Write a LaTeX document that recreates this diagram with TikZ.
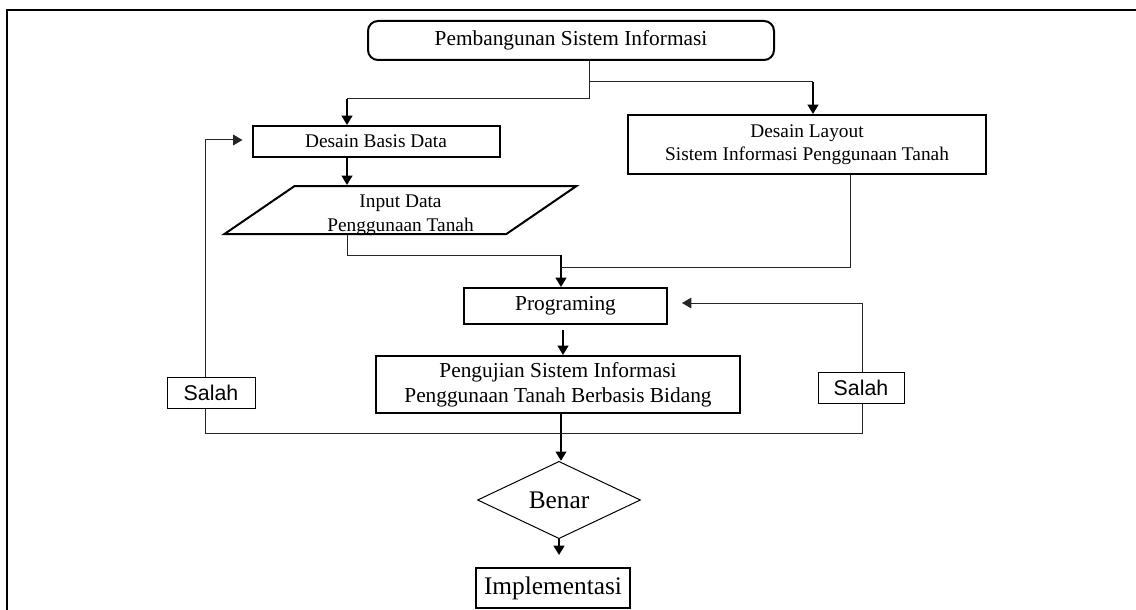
\documentclass[tikz,border=0pt]{standalone}
\usepackage{fontspec}
\setmainfont{Liberation Serif}
\setsansfont{Liberation Sans}
\usetikzlibrary{arrows.meta,shapes.geometric}
\tikzset{every picture/.style={line width=0.75pt}}
\tikzset{
  box/.style={draw, line width=1.5pt, align=center, inner sep=1pt},
  flow/.style={line width=1.5pt, -{Triangle[length=7pt,width=8pt]}},
  back/.style={line width=0.75pt, draw=black!85, -{Triangle[length=7pt,width=8pt]}},
  link/.style={line width=0.75pt, draw=black!85},
  tag/.style={draw, line width=0.75pt, font=\sffamily\fontsize{16}{19}\selectfont, minimum height=23.25pt, inner sep=1pt},
}

\begin{document}
\begin{tikzpicture}[x=0.75pt,y=0.75pt,yscale=-1,xscale=1]
\useasboundingbox (0,0) rectangle (1136,610);
%Frame
\draw [line width=1.5pt] (7,610) -- (7,10) -- (1136,10);

%Shape: Rounded Rect
\node [box, rounded corners=7.5pt, minimum width=304.5pt, minimum height=29.25pt, font=\fontsize{16}{19}\selectfont] (top) at (571,40.5) {Pembangunan Sistem Informasi};
%Shape: Rectangle
\node [box, minimum width=185.25pt, minimum height=23.25pt, font=\fontsize{14.5}{17.5}\selectfont] (desain) at (376,141.5) {Desain Basis Data};
%Shape: Rectangle
\node [box, minimum width=268.5pt, minimum height=44.25pt, font=\fontsize{14.5}{17.5}\selectfont] (layout) at (807,144.5) {Desain Layout\\Sistem Informasi Penggunaan Tanah};
%Shape: Parallelogram
\node [box, trapezium, trapezium left angle=34.4, trapezium right angle=145.6, trapezium stretches body=true, minimum width=264pt,
  label={[font=\fontsize{14.5}{18}\selectfont, align=center, yshift=-3.75pt]center:{Input Data\\Penggunaan Tanah}}] (input) at (400.5,210) {\rule{0pt}{34pt}};
%Shape: Rectangle
\node [box, minimum width=152.25pt, minimum height=27pt, font=\fontsize{16}{19}\selectfont] (prog) at (565.5,306) {Programing};
%Shape: Rectangle
\node [box, minimum width=273pt, minimum height=42.75pt, font=\fontsize{16}{18.75}\selectfont] (uji) at (558,384.5) {Pengujian Sistem Informasi\\Penggunaan Tanah Berbasis Bidang};
%Shape: Diamond
\node [draw, diamond, line width=0.75pt, inner sep=0pt, minimum width=122.25pt, minimum height=52.5pt, font=\fontsize{19}{22}\selectfont] (benar) at (559,500) {Benar};
%Shape: Rectangle
\node [box, minimum width=115.5pt, minimum height=30pt, font=\fontsize{19}{22}\selectfont] (impl) at (553,588) {Implementasi};
%Shape: Rectangle
\node [tag, minimum width=66pt] (salahL) at (211,392.5) {Salah};
\node [tag, minimum width=64.5pt] (salahR) at (861,387.5) {Salah};

%Bends
\coordinate (s1) at (589,82);
\coordinate (s2) at (589,99);
\coordinate (a1) at (347,99);
\coordinate (a2) at (813,82);
\coordinate (m1) at (347,255);
\coordinate (m2) at (561,255);
\coordinate (r1) at (850,267);
\coordinate (p1) at (563,330);
\coordinate (b1) at (561,433);
\coordinate (l1) at (205,433);
\coordinate (l2) at (205,140);
\coordinate (r2) at (862.5,433);
\coordinate (r3) at (862.5,303);

%Connectors
\draw [link] (s2 |- top.south) -- (s2) -- (a1);
\draw [flow] (a1) -- (a1 |- desain.north);
\draw [link] (s1) -- (a2);
\draw [flow] (a2) -- (a2 |- layout.north);
\draw [flow] (a1 |- desain.south) -- (a1 |- input.north);
\draw [link] (a1 |- input.south) -- (m1) -- (m2);
\draw [flow] (m2) -- (m2 |- prog.north);
\draw [link] (r1 |- layout.south) -- (r1) -- (r1 -| m2);
\draw [flow] (p1) -- (p1 |- uji.north);
\draw [line width=1.5pt] (b1 |- uji.south) -- (b1);
\draw [flow] (b1) -- (b1 |- benar.north);
\draw [flow, shorten >=9pt] (benar.south) -- (benar.south |- impl.north);

%Loops back
\draw [link] (l1) -- (r2);
\draw [link] (l1) -- (l1 |- salahL.south);
\draw [link] (l1 |- salahL.north) -- (l2);
\draw [back, shorten >=6.75pt] (l2) -- (l2 -| desain.west);
\draw [link] (r2) -- (r2 |- salahR.south);
\draw [link] (r2 |- salahR.north) -- (r3);
\draw [back, shorten >=10.5pt] (r3) -- (r3 -| prog.east);

\end{tikzpicture}
\end{document}
